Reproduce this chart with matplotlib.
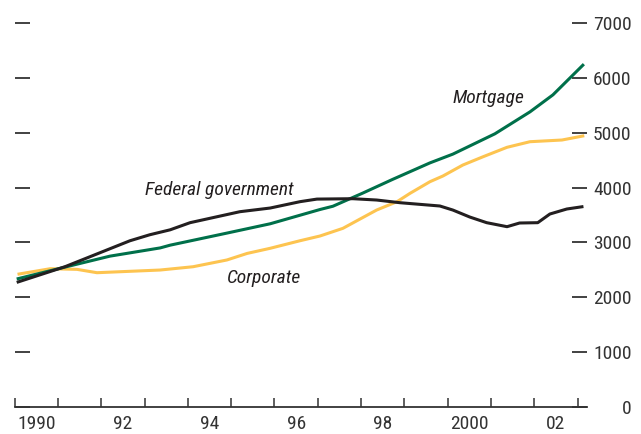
import matplotlib
matplotlib.use("Agg")
import matplotlib.pyplot as plt
from matplotlib import font_manager

# ---- data ----
mort_t = [1990.08, 1991.16, 1992.2, 1993.36, 1993.59, 1994.9, 1995.9, 1997.05, 1997.35,
          1998.04, 1998.73, 1999.59, 2000.12, 2001.09, 2001.9, 2002.43, 2003.12]
mort_v = [2340, 2550, 2750, 2900, 2950, 3170, 3340, 3600, 3660,
          3900, 4150, 4450, 4610, 4980, 5380, 5690, 6230]

fed_t = [1990.08, 1991.16, 1992.66, 1993.12, 1993.59, 1994.05, 1995.2, 1995.9, 1996.59,
         1996.98, 1997.81, 1998.36, 1998.9, 1999.82, 2000.12, 2000.51, 2000.9, 2001.37,
         2001.66, 2002.08, 2002.36, 2002.75, 2003.1]
fed_v = [2280, 2557, 3030, 3140, 3230, 3360, 3560, 3627, 3743,
         3790, 3797, 3773, 3724, 3664, 3590, 3463, 3360, 3287,
         3354, 3360, 3518, 3609, 3650]

corp_t = [1990.1, 1990.82, 1991.44, 1991.9, 1993.36, 1994.12, 1994.9, 1995.37, 1995.9,
          1996.59, 1997.05, 1997.58, 1998.36, 1998.83, 1999.13, 1999.59, 1999.89,
          2000.35, 2000.82, 2001.37, 2001.9, 2002.64, 2003.12]
corp_v = [2424, 2521, 2509, 2448, 2497, 2557, 2680, 2800, 2893,
          3031, 3117, 3257, 3591, 3743, 3895, 4107, 4211,
          4411, 4563, 4734, 4836, 4867, 4940]

year_ticks = list(range(1990, 2004))
year_labels = ["1990", "92", "94", "96", "98", "2000", "02"]
label_pos = [1990.5, 1992.5, 1994.5, 1996.5, 1998.5, 2000.5, 2002.5]
y_ticks = [0, 1000, 2000, 3000, 4000, 5000, 6000, 7000]

# ---- style ----
names = {f.name for f in font_manager.fontManager.ttflist}
fam = "Liberation Sans"
for cand in ["Liberation Sans Narrow", "Roboto Condensed", "Archivo Narrow", "Asap Condensed"]:
    if cand in names:
        fam = cand
        break
plt.rcParams['font.family'] = [fam, 'DejaVu Sans']

GREEN = "#00704a"
YELLOW = "#fdc450"
BLACK = "#231f20"
TICKC = "#333333"
FS = 14

W, H = 641, 434
fig = plt.figure(figsize=(W / 100, H / 100), dpi=100)
l, r, b, t = 14.7, 587.0, 407.0, 23.0
ax = fig.add_axes([l / W, (H - b) / H, (r - l) / W, (b - t) / H])

ax.plot(corp_t, corp_v, color=YELLOW, lw=2.2, solid_joinstyle='round')
ax.plot(mort_t, mort_v, color=GREEN, lw=2.2, solid_joinstyle='round')
ax.plot(fed_t, fed_v, color=BLACK, lw=2.2, solid_joinstyle='round')

ax.set_xlim(1990.0, 1990.0 + (r - l) / 43.3)
ax.set_ylim(0, 7000)

for s in ['top', 'left', 'right']:
    ax.spines[s].set_visible(False)
ax.spines['bottom'].set_color(TICKC)
ax.spines['bottom'].set_linewidth(1.3)

ax.set_xticks(year_ticks)
ax.set_xticklabels([])
ax.tick_params(axis='x', which='major', direction='in', length=6.5, width=1.1, color=TICKC)
ax.set_xticks(label_pos, minor=True)
ax.set_xticklabels(year_labels, minor=True, fontsize=FS, color=TICKC)
ax.tick_params(axis='x', which='minor', length=0, pad=6)

ax.set_yticks(y_ticks)
ax.tick_params(axis='y', which='major', direction='in', length=10.5, width=1.3, color=TICKC,
               left=True, right=True, labelleft=False, labelright=True,
               labelsize=FS, labelcolor=TICKC, pad=32)
for lab in ax.get_yticklabels():
    lab.set_horizontalalignment('right')

ax.text(1994.72, 3960, "Federal government", style='italic', fontsize=FS, color=BLACK,
        ha='center', va='center')
ax.text(1995.75, 2360, "Corporate", style='italic', fontsize=FS, color=BLACK,
        ha='center', va='center')
ax.text(2000.95, 5630, "Mortgage", style='italic', fontsize=FS, color=BLACK,
        ha='center', va='center')

fig.savefig("out.png", dpi=100)
